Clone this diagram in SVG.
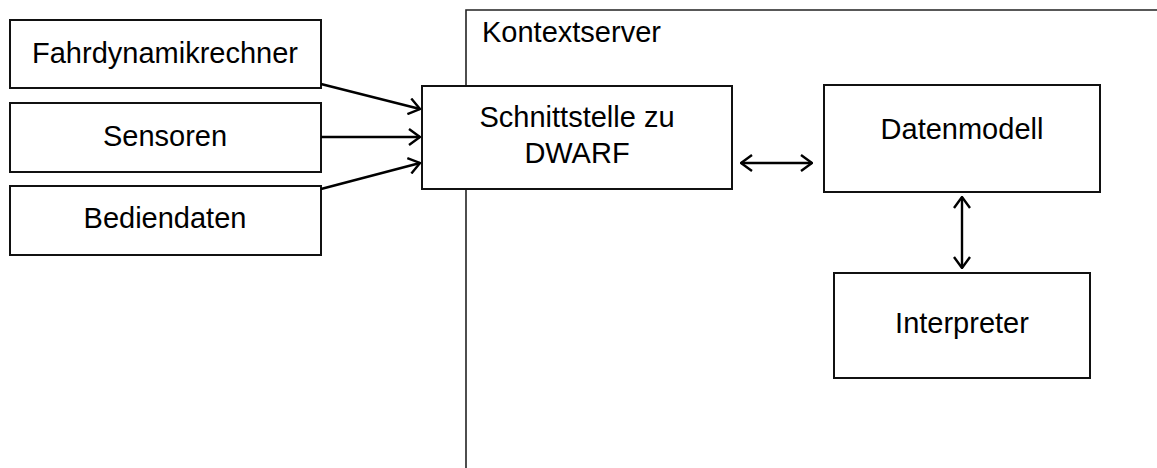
<svg xmlns="http://www.w3.org/2000/svg" width="1157" height="468" viewBox="0 0 1157 468">
<style>
.box{fill:#fff;stroke:#111;stroke-width:2}
.cont{fill:none;stroke:#222;stroke-width:1.6}
.lbl{font-family:"Liberation Sans",Arial,sans-serif;font-size:29px;fill:#000;text-anchor:middle}
.conn{fill:none;stroke:#000;stroke-width:2.4}
</style>
<defs>
<marker id="ah" viewBox="0 0 13 18" refX="12" refY="9" markerWidth="13" markerHeight="18" markerUnits="userSpaceOnUse" orient="auto-start-reverse">
<path d="M1,1 L12,9 L1,17" fill="none" stroke="#000" stroke-width="2.4"/>
</marker>
</defs>
<rect width="1157" height="468" fill="#fff"/>
<g id="kontextserver">
<path class="cont" d="M466,468 V10 H1157"/>
<text x="482" y="42" style="font-family:'Liberation Sans',Arial,sans-serif;font-size:29px;fill:#000">Kontextserver</text>
</g>
<g id="fahrdynamikrechner">
<rect class="box" x="10" y="20" width="311" height="68"/>
<text class="lbl" x="165" y="63">Fahrdynamikrechner</text>
</g>
<g id="sensoren">
<rect class="box" x="10" y="103" width="311" height="69"/>
<text class="lbl" x="165" y="146">Sensoren</text>
</g>
<g id="bediendaten">
<rect class="box" x="10" y="186" width="311" height="69"/>
<text class="lbl" x="165" y="228">Bediendaten</text>
</g>
<g id="schnittstelle">
<rect class="box" x="422" y="86" width="310" height="103"/>
<text class="lbl" x="577" y="127">Schnittstelle zu</text>
<text class="lbl" x="577" y="163">DWARF</text>
</g>
<g id="datenmodell">
<rect class="box" x="824" y="85" width="276" height="107"/>
<text class="lbl" x="962" y="139">Datenmodell</text>
</g>
<g id="interpreter">
<rect class="box" x="834" y="273" width="256" height="105"/>
<text class="lbl" x="962" y="333">Interpreter</text>
</g>
<g id="connectors">
<line class="conn" x1="321" y1="84" x2="420" y2="109" marker-end="url(#ah)"/>
<line class="conn" x1="321" y1="137" x2="420" y2="137" marker-end="url(#ah)"/>
<line class="conn" x1="321" y1="189" x2="420" y2="163" marker-end="url(#ah)"/>
<line class="conn" x1="741" y1="163" x2="812" y2="163" marker-start="url(#ah)" marker-end="url(#ah)"/>
<line class="conn" x1="962" y1="197" x2="962" y2="268" marker-start="url(#ah)" marker-end="url(#ah)"/>
</g>
</svg>
